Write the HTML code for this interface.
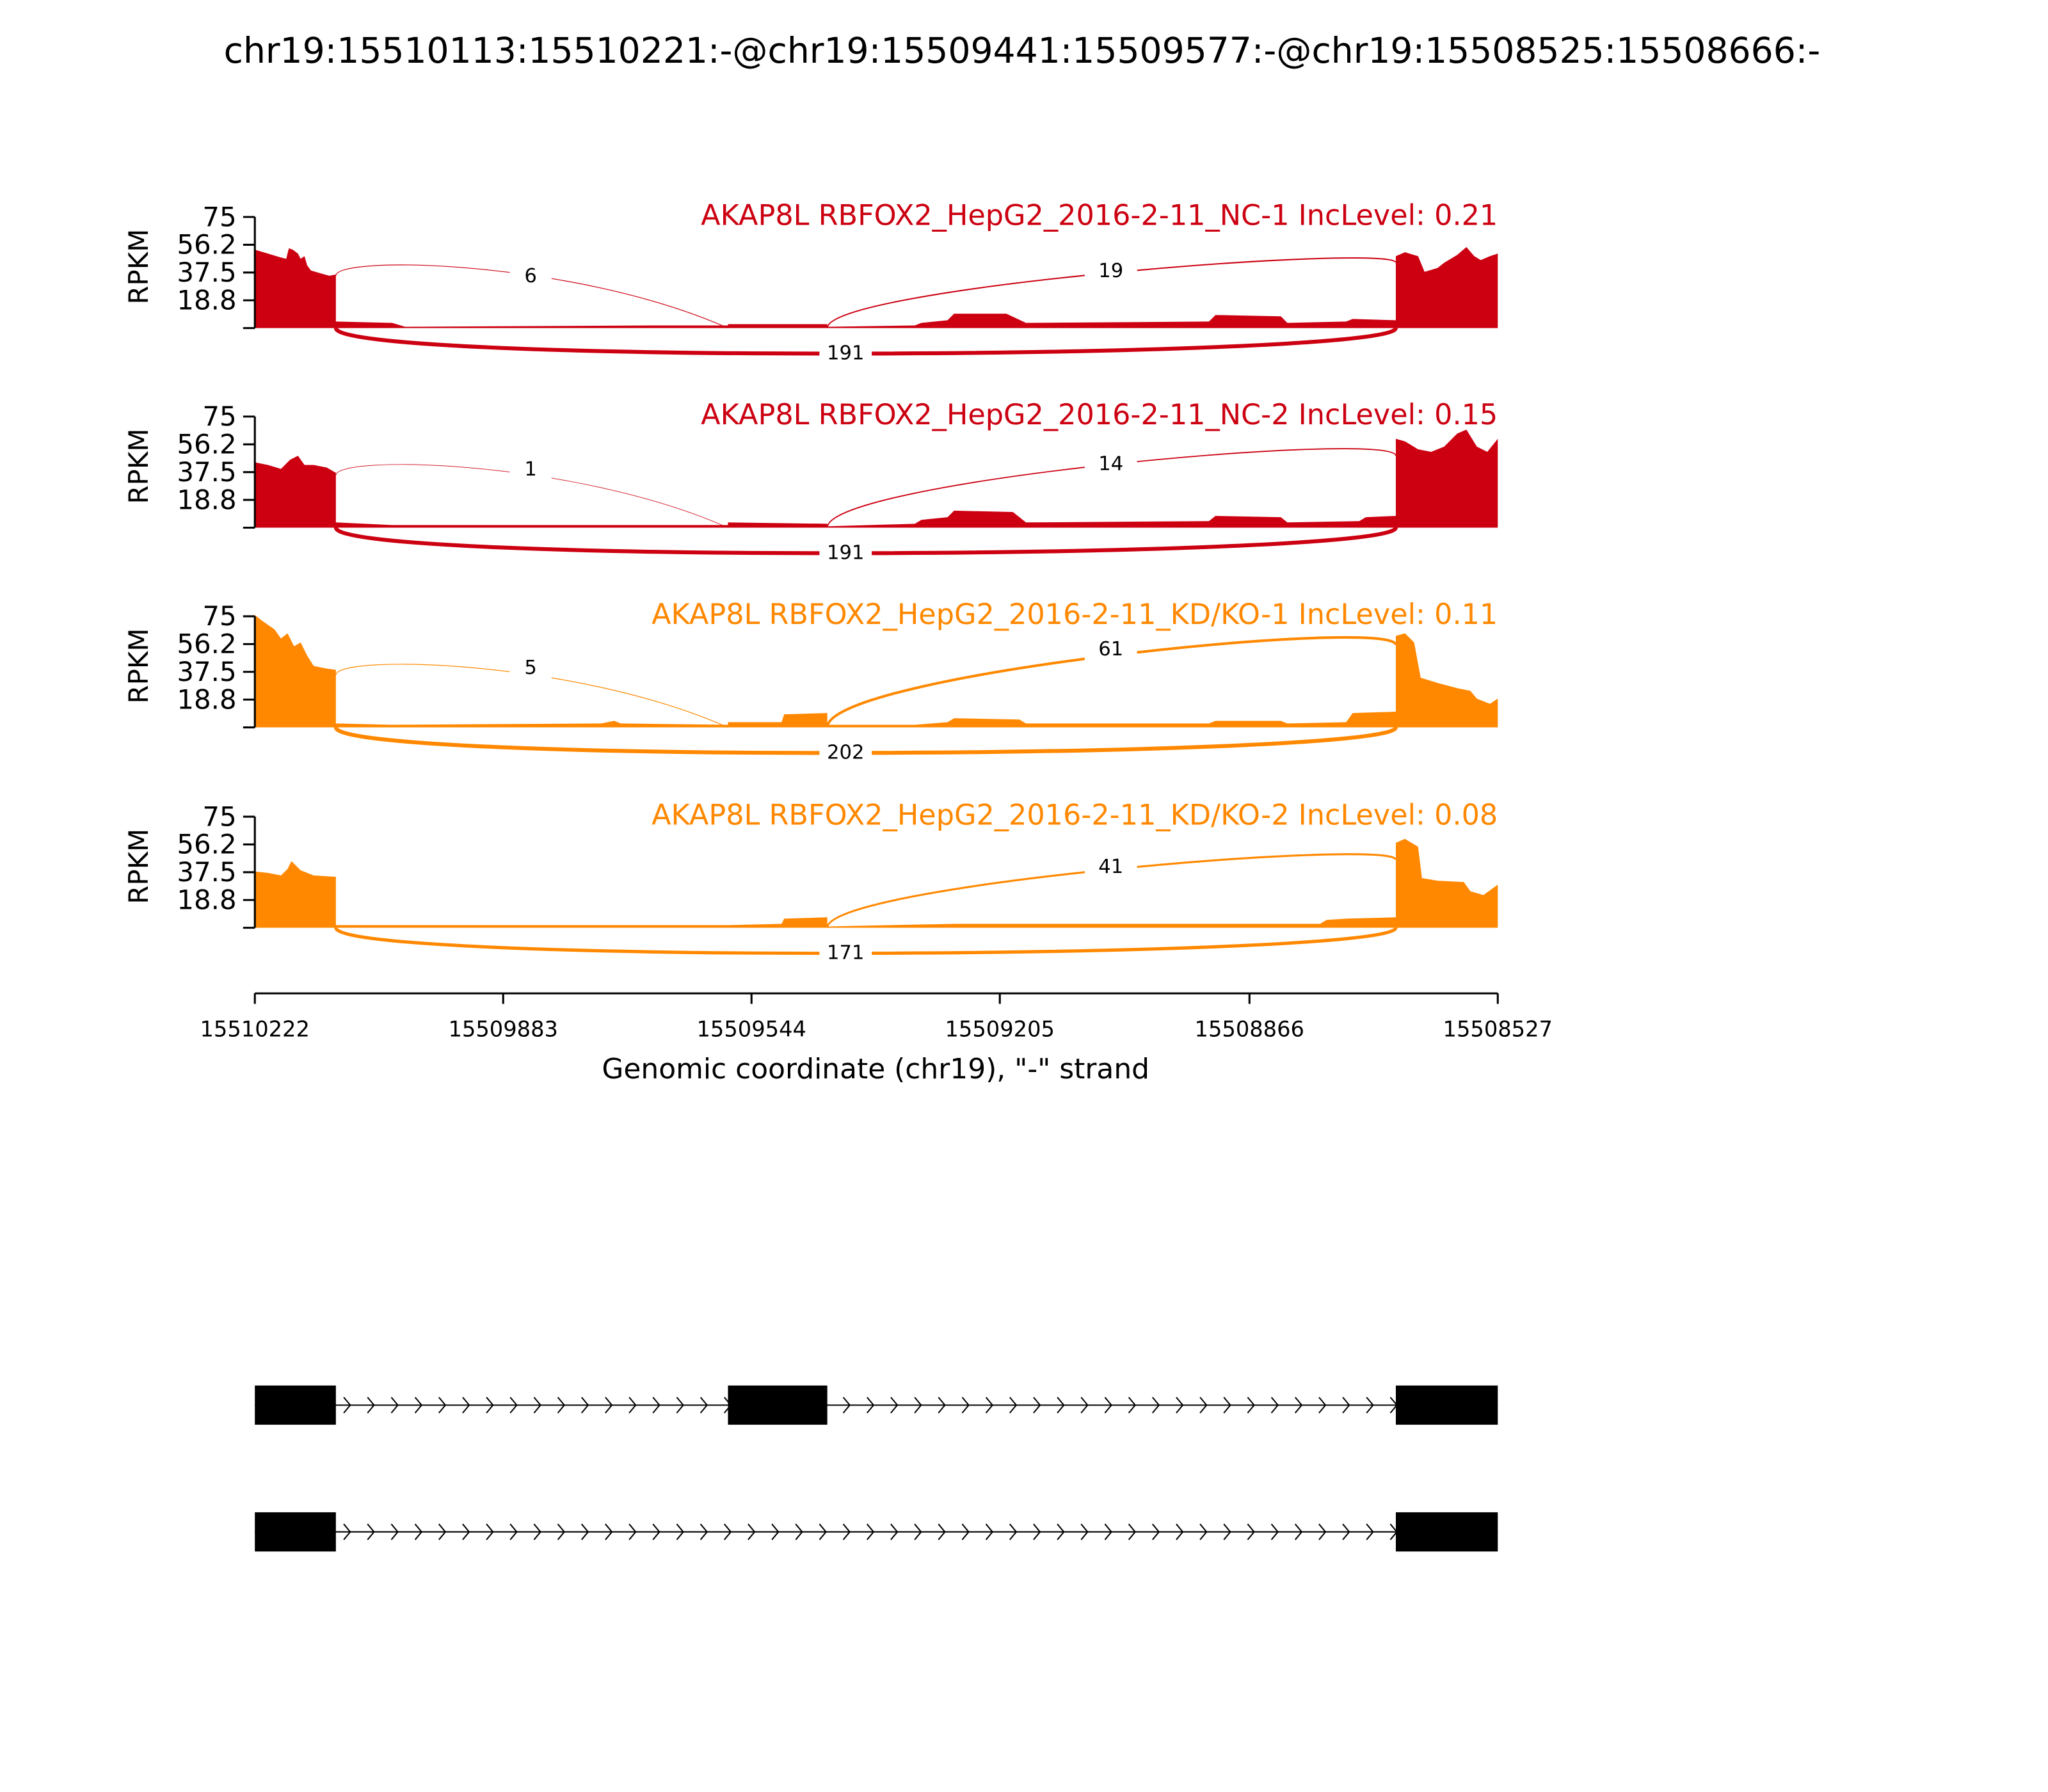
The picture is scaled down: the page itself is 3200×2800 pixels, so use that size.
<!DOCTYPE html>
<html><head><meta charset="utf-8"><style>html,body{margin:0;padding:0;background:#fff}svg{display:block}</style></head>
<body>
<svg id="s" xmlns="http://www.w3.org/2000/svg" width="3200" height="2800" viewBox="0 0 1567 1371" preserveAspectRatio="none" font-family="'DejaVu Sans','Liberation Sans',sans-serif">
<rect width="1567" height="1371" fill="#fff"/>
<text x="782" y="48" font-size="27" text-anchor="middle">chr19:15510113:15510221:-@chr19:15509441:15509577:-@chr19:15508525:15508666:-</text>

<g id="panels"></g>

<g stroke="#000" stroke-width="1.5" fill="none">
<line x1="195" y1="760" x2="1146" y2="760"/>
<line x1="195" y1="760" x2="195" y2="768"/><line x1="385" y1="760" x2="385" y2="768"/><line x1="575" y1="760" x2="575" y2="768"/><line x1="765" y1="760" x2="765" y2="768"/><line x1="956" y1="760" x2="956" y2="768"/><line x1="1146" y1="760" x2="1146" y2="768"/>
</g>
<g font-size="16.5" text-anchor="middle">
<text x="195" y="793">15510222</text><text x="385" y="793">15509883</text><text x="575" y="793">15509544</text><text x="765" y="793">15509205</text><text x="956" y="793">15508866</text><text x="1146" y="793">15508527</text>
</g>
<text x="670" y="825" font-size="21.5" text-anchor="middle">Genomic coordinate (chr19), "-" strand</text>

<g id="genes"></g>
</svg>
<script>
const NS="http://www.w3.org/2000/svg";
function el(p,t,a,txt){const e=document.createElementNS(NS,t);for(const k in a)e.setAttribute(k,a[k]);if(txt!==undefined)e.textContent=txt;p.appendChild(e);return e;}
const P=document.getElementById('panels');
const panels=[
 {c:'#cc0011',t:'AKAP8L RBFOX2_HepG2_2016-2-11_NC-1 IncLevel: 0.21',
  cov:[[195,60],[205,57],[215,54],[219,53],[221,61],[224,60],[228,57],[230,53],[233,55],[235,48],[238,44],[245,42],[252,40],[257,41],[257,5],[300,4],[310,1],[500,2],[557,2],[557,3],[633,3],[633,1],[700,2],[705,4],[725,6],[730,11],[770,11],[785,4],[925,5],[930,10],[980,9],[985,4],[1030,5],[1035,7],[1068,6],[1068,55],[1075,58],[1085,55],[1090,43],[1100,46],[1105,50],[1115,56],[1122,62],[1128,55],[1133,52],[1140,55],[1146,57]],
  a1:'6',l1:40,a2:'19',l2:44,pk2:52,e2:50,b:'191',bw:3,w1:0.6,w2:1},
 {c:'#cc0011',t:'AKAP8L RBFOX2_HepG2_2016-2-11_NC-2 IncLevel: 0.15',
  cov:[[195,50],[205,48],[215,45],[222,52],[228,55],[233,48],[240,48],[250,46],[257,42],[257,4],[300,2],[500,2],[557,2],[557,4],[633,3],[633,1],[700,3],[705,6],[725,8],[730,13],[775,12],[785,4],[925,5],[930,9],[980,8],[985,4],[1040,5],[1045,8],[1068,9],[1068,68],[1075,66],[1085,60],[1095,58],[1105,62],[1115,72],[1122,75],[1130,62],[1138,58],[1146,68]],
  a1:'1',l1:45,a2:'14',l2:49,pk2:60,e2:55,b:'191',bw:3,w1:0.4,w2:0.9},
 {c:'#ff8800',t:'AKAP8L RBFOX2_HepG2_2016-2-11_KD/KO-1 IncLevel: 0.11',
  cov:[[195,86],[200,82],[210,75],[215,68],[220,72],[225,62],[230,65],[235,55],[240,47],[250,45],[257,44],[257,3],[300,2],[460,3],[470,5],[475,3],[557,2],[557,4],[598,4],[600,10],[633,11],[633,2],[700,2],[725,4],[730,7],[780,6],[785,3],[925,3],[930,5],[980,5],[985,3],[1030,4],[1035,11],[1068,12],[1068,70],[1075,72],[1082,65],[1087,38],[1100,34],[1115,30],[1125,28],[1130,22],[1140,18],[1146,22]],
  a1:'5',l1:46,a2:'61',l2:60,pk2:68,e2:63,b:'202',bw:3,w1:0.6,w2:2},
 {c:'#ff8800',t:'AKAP8L RBFOX2_HepG2_2016-2-11_KD/KO-2 IncLevel: 0.08',
  cov:[[195,43],[205,42],[215,40],[220,45],[223,51],[226,48],[230,44],[240,40],[257,39],[257,2],[557,2],[557,2],[598,3],[600,7],[633,8],[633,1],[730,3],[780,3],[930,3],[980,3],[1010,3],[1015,6],[1030,7],[1068,8],[1068,65],[1075,68],[1085,62],[1088,38],[1100,36],[1120,35],[1125,28],[1135,25],[1146,33]],
  a1:null,a2:'41',l2:47,pk2:55,e2:52,b:'171',bw:2.5,w1:0,w2:1.5}
];
const offs=[0,152.7,305.5,458.8];
panels.forEach((p,i)=>{
  const B=251+offs[i], T=B-85;
  const g=el(P,'g',{});
  let pts=`195,${B} `+p.cov.map(([x,h])=>`${x},${B-h}`).join(' ')+` 1146,${B}`;
  el(g,'polygon',{points:pts,fill:p.c});
  el(g,'line',{x1:195,y1:T,x2:195,y2:B,stroke:'#000','stroke-width':1.5});
  const labs=['75','56.2','37.5','18.8',''];
  labs.forEach((l,k)=>{const y=T+k*21.25;el(g,'line',{x1:186,y1:y,x2:195,y2:y,stroke:'#000','stroke-width':1.5});
    if(l)el(g,'text',{x:181,y:y+7,'font-size':20.5,'text-anchor':'end'},l);});
  el(g,'text',{x:0,y:0,'font-size':20.5,'text-anchor':'middle',transform:`translate(113,${T+38}) rotate(-90)`},'RPKM');
  el(g,'text',{x:1146,y:T+6,'font-size':21.8,'text-anchor':'end',fill:p.c},p.t);
  if(p.a1){
    el(g,'path',{d:`M257,${B-40} C257,${B-56} 440,${B-52} 557,${B}`,fill:'none',stroke:p.c,'stroke-width':p.w1});
    el(g,'rect',{x:390,y:B-p.l1-9,width:32,height:18,fill:'#fff'});
    el(g,'text',{x:406,y:B-p.l1+5,'font-size':15,'text-anchor':'middle'},p.a1);}
  {
    el(g,'path',{d:`M633,${B} C633,${B-p.pk2*0.6} 1068,${B-p.pk2*1.25} 1068,${B-p.e2}`,fill:'none',stroke:p.c,'stroke-width':p.w2});
    el(g,'rect',{x:830,y:B-p.l2-9,width:40,height:18,fill:'#fff'});
    el(g,'text',{x:850,y:B-p.l2+5,'font-size':15,'text-anchor':'middle'},p.a2);}
  el(g,'path',{d:`M257,${B} C257,${B+28} 1068,${B+24} 1068,${B}`,fill:'none',stroke:p.c,'stroke-width':p.bw});
  el(g,'rect',{x:627,y:B+10,width:40,height:18,fill:'#fff'});
  el(g,'text',{x:647,y:B+24,'font-size':15,'text-anchor':'middle'},p.b);
});
const G=document.getElementById('genes');
function track(y,exons){
  el(G,'line',{x1:195,y1:y,x2:1146,y2:y,stroke:'#000','stroke-width':1});
  for(let x=263;x<1065;x+=18.2){el(G,'path',{d:`M${x},${y-6} L${x+5},${y} L${x},${y+6}`,fill:'none',stroke:'#000','stroke-width':1});}
  exons.forEach(([a,b])=>el(G,'rect',{x:a,y:y-15,width:b-a,height:30,fill:'#000'}));
}
track(1075,[[195,257],[557,633],[1068,1146]]);
track(1172,[[195,257],[1068,1146]]);
</script>
</body></html>
